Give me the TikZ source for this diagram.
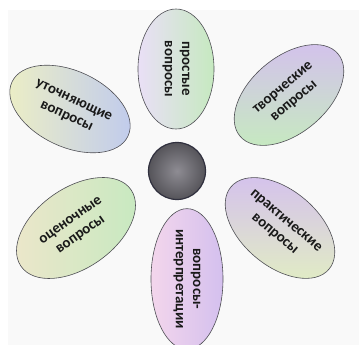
\documentclass[tikz,border=0pt]{standalone}
\usepackage{fontspec}
\setmainfont{Carlito}
\usepackage{tikz}
\usetikzlibrary{shapes.geometric}
\definecolor{rim}{HTML}{4E4E54}
\definecolor{paleviolet}{HTML}{D4C0EE}
\definecolor{palepink}{HTML}{EEC4E4}
\definecolor{palegreen}{HTML}{C6E9C0}
\definecolor{paleyellow}{HTML}{EDEFC4}
\definecolor{paleblue}{HTML}{BFCAEE}
\definecolor{palecyan}{HTML}{C4E7E6}
\definecolor{coregray}{HTML}{7A7880}
\definecolor{coredark}{HTML}{30303E}
\tikzset{
  petal/.style={ellipse, draw=rim, semithick, inner sep=0pt, align=center,
    minimum width=128bp, minimum height=76bp,
    font=\bfseries\fontsize{15}{17.5}\selectfont, text=black!90},
  core/.style={circle, draw=coredark, very thick, inner sep=0pt,
    minimum size=57bp, inner color=coregray!85, outer color=coregray!70!black}
}
\begin{document}
\begin{tikzpicture}[x=1bp,y=1bp]
  \useasboundingbox (0,0) rectangle (359,345);
  \fill[gray!5] (8,0) rectangle (359,335);
  \node[core] (center) at (177,174) {};
  \node[petal, minimum width=120bp, rotate=-90, left color=paleviolet!50,
    middle color=white!60!palepink, right color=palegreen] (simple) at (176,276)
    {простые\\вопросы};
  \node[petal, rotate=40, top color=paleviolet, middle color=paleblue!80,
    bottom color=palegreen] (creative) at (289,250) {творческие\\вопросы};
  \node[petal, rotate=-40, top color=paleviolet, middle color=palepink,
    bottom color=paleyellow!70!palegreen] (practical) at (280,117)
    {практические\\вопросы};
  \node[petal, minimum width=134bp, minimum height=72bp, rotate=-90,
    left color=palepink!70, middle color=palecyan, right color=paleviolet]
    (interp) at (187,66) {вопросы-\\интерпретации};
  \node[petal, minimum width=134bp, minimum height=80bp, rotate=35,
    left color=paleyellow!80!palepink, middle color=paleblue, right color=palegreen]
    (evaluative) at (76,117) {оценочные\\вопросы};
  \node[petal, rotate=-25, left color=paleyellow, middle color=palepink,
    right color=paleblue] (clarifying) at (70,236) {уточняющие\\вопросы};
\end{tikzpicture}
\end{document}
